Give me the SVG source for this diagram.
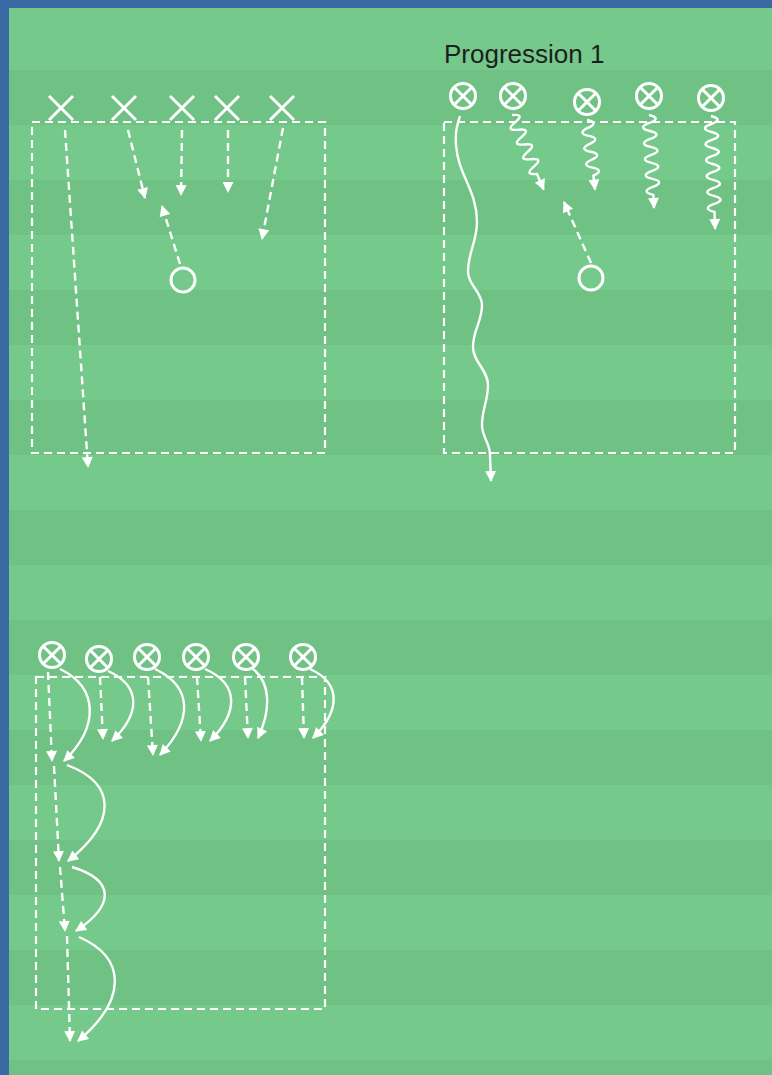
<svg xmlns="http://www.w3.org/2000/svg" xmlns:xlink="http://www.w3.org/1999/xlink" width="772" height="1075" viewBox="0 0 772 1075">
<style>
.dash{fill:none;stroke:#fff;stroke-width:2.4;stroke-dasharray:8 5;}
.solid{fill:none;stroke:#fff;stroke-width:2.4;}
.mk{fill:none;stroke:#fff;stroke-width:3;}
.field{fill:none;stroke:#fff;stroke-width:2.2;stroke-dasharray:8 5;}
.stripe{fill:#6fc284;}
.lbl{font-family:"Liberation Sans",Arial,sans-serif;font-size:26px;fill:#1e1e1e;}
</style>
<defs>
<marker id="ah" viewBox="0 0 10 10" refX="9" refY="5" markerWidth="12" markerHeight="11" orient="auto" markerUnits="userSpaceOnUse">
<path d="M0,0 L10,5 L0,10 z" fill="#fff"/>
</marker>
<g id="cx"><circle r="12.5" class="mk"/><path d="M-8.8,-8.8 L8.8,8.8 M8.8,-8.8 L-8.8,8.8" class="mk"/></g>
<g id="xx"><path d="M-12,-12 L12,12 M12,-12 L-12,12" class="mk"/></g>
</defs>
<rect x="0" y="0" width="772" height="1075" fill="#3a6aa3"/>
<rect x="9" y="8" width="763" height="1067" fill="#75c98a"/>
<g id="stripes">
<rect class="stripe" x="9" y="70" width="763" height="55"/>
<rect class="stripe" x="9" y="180" width="763" height="55"/>
<rect class="stripe" x="9" y="290" width="763" height="55"/>
<rect class="stripe" x="9" y="400" width="763" height="55"/>
<rect class="stripe" x="9" y="510" width="763" height="55"/>
<rect class="stripe" x="9" y="620" width="763" height="55"/>
<rect class="stripe" x="9" y="730" width="763" height="55"/>
<rect class="stripe" x="9" y="840" width="763" height="55"/>
<rect class="stripe" x="9" y="950" width="763" height="55"/>
<rect class="stripe" x="9" y="1060" width="763" height="15"/>
</g>
<g id="area1"><rect class="field" x="32" y="122" width="293" height="331"/></g>
<g id="area2"><rect class="field" x="444" y="122" width="291" height="331"/></g>
<g id="area3"><rect class="field" x="36" y="677" width="289" height="332"/></g>
<g id="label"><text class="lbl" x="444" y="63">Progression 1</text></g>

<g id="connectors">
<!-- top-left -->
<path class="dash" d="M65,130 L88,467" marker-end="url(#ah)"/>
<path class="dash" d="M128,130 L145,198" marker-end="url(#ah)"/>
<path class="dash" d="M182,130 L181,195" marker-end="url(#ah)"/>
<path class="dash" d="M228,130 L228,192" marker-end="url(#ah)"/>
<path class="dash" d="M283,128 L262,239" marker-end="url(#ah)"/>
<path class="dash" d="M180,264 L162,206" marker-end="url(#ah)"/>
<!-- top-right -->
<path class="dash" d="M591,263 L564,202" marker-end="url(#ah)"/>
<path class="solid" d="M460,116 C457,126 455,132 456,145 C458,175 477,190 477,222 C477,242 468,252 468,272 C468,285 482,292 482,305 C482,322 473,330 473,347 C473,362 488,370 488,385 C488,401 482,409 482,425 C482,437 490,443 490,455 L491,481" marker-end="url(#ah)"/>
<path class="solid" transform="translate(512,115) rotate(67)" d="M0,0 q4,-13 8,0 t8,0 t8,0 t8,0 t8,0 t8,0 t8,0 t8,0 l17,0" marker-end="url(#ah)"/>
<path class="solid" transform="translate(587,120) rotate(83.4)" d="M0,0 q4,-12 8,0 t8,0 t8,0 t8,0 t8,0 t8,0 t8,0 l14,0" marker-end="url(#ah)"/>
<path class="solid" transform="translate(649,115) rotate(86.9)" d="M0,0 q4,-13 8,0 t8,0 t8,0 t8,0 t8,0 t8,0 t8,0 t8,0 t8,0 t8,0 l13,0" marker-end="url(#ah)"/>
<path class="solid" transform="translate(711,116) rotate(87.9)" d="M0,0 q4,-13 8,0 t8,0 t8,0 t8,0 t8,0 t8,0 t8,0 t8,0 t8,0 t8,0 t8,0 t8,0 l17,0" marker-end="url(#ah)"/>
<!-- bottom-left dashed -->
<path class="dash" d="M48,672 L52,761" marker-end="url(#ah)"/>
<path class="dash" d="M54,766 L59,861" marker-end="url(#ah)"/>
<path class="dash" d="M60,867 L65,931" marker-end="url(#ah)"/>
<path class="dash" d="M67,936 L70,1041" marker-end="url(#ah)"/>
<path class="dash" d="M100,677 L103,739" marker-end="url(#ah)"/>
<path class="dash" d="M148,677 L153,755" marker-end="url(#ah)"/>
<path class="dash" d="M197,677 L201,741" marker-end="url(#ah)"/>
<path class="dash" d="M245,677 L248,738" marker-end="url(#ah)"/>
<path class="dash" d="M302,677 L304,738" marker-end="url(#ah)"/>
<!-- bottom-left curves -->
<path class="solid" d="M60,669 C99,688 99,727 64,761" marker-end="url(#ah)"/>
<path class="solid" d="M67,765 C117,784 117,822 68,861" marker-end="url(#ah)"/>
<path class="solid" d="M72,867 C115,880 115,905 76,931" marker-end="url(#ah)"/>
<path class="solid" d="M79,937 C127,958 127,1000 78,1041" marker-end="url(#ah)"/>
<path class="solid" d="M108,671 C141,686 141,713 112,741" marker-end="url(#ah)"/>
<path class="solid" d="M155,669 C193,687 193,720 160,755" marker-end="url(#ah)"/>
<path class="solid" d="M205,669 C239,684 239,712 210,741" marker-end="url(#ah)"/>
<path class="solid" d="M253,669 C271,683 271,710 258,738" marker-end="url(#ah)"/>
<path class="solid" d="M310,669 C341,683 341,710 313,738" marker-end="url(#ah)"/>
</g>

<g id="tl-x1"><use xlink:href="#xx" x="61" y="108"/></g>
<g id="tl-x2"><use xlink:href="#xx" x="124" y="108"/></g>
<g id="tl-x3"><use xlink:href="#xx" x="182" y="108"/></g>
<g id="tl-x4"><use xlink:href="#xx" x="227" y="108"/></g>
<g id="tl-x5"><use xlink:href="#xx" x="282" y="108"/></g>
<g id="tl-o"><circle class="mk" cx="183" cy="280" r="12"/></g>

<g id="tr-p1"><use xlink:href="#cx" x="463" y="96"/></g>
<g id="tr-p2"><use xlink:href="#cx" x="513" y="96"/></g>
<g id="tr-p3"><use xlink:href="#cx" x="587" y="102"/></g>
<g id="tr-p4"><use xlink:href="#cx" x="649" y="96"/></g>
<g id="tr-p5"><use xlink:href="#cx" x="711" y="98"/></g>
<g id="tr-o"><circle class="mk" cx="591" cy="278" r="12"/></g>

<g id="bl-p1"><use xlink:href="#cx" x="52" y="655"/></g>
<g id="bl-p2"><use xlink:href="#cx" x="99" y="659"/></g>
<g id="bl-p3"><use xlink:href="#cx" x="147" y="657"/></g>
<g id="bl-p4"><use xlink:href="#cx" x="196" y="657"/></g>
<g id="bl-p5"><use xlink:href="#cx" x="246" y="657"/></g>
<g id="bl-p6"><use xlink:href="#cx" x="303" y="657"/></g>
</svg>
